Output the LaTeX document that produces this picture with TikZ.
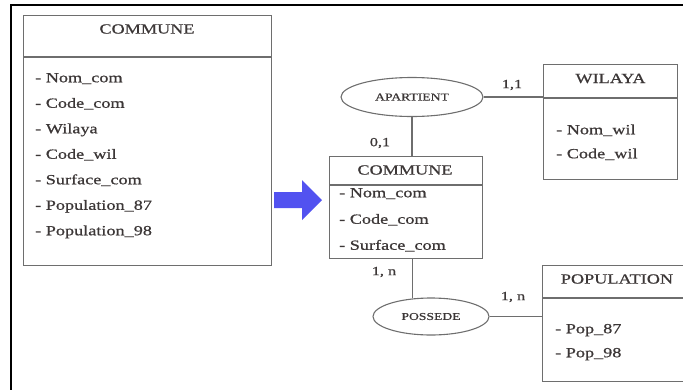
\documentclass[tikz,border=0pt]{standalone}
\usepackage{fontspec}
\setmainfont{Liberation Serif}[FakeStretch=1.3,FakeBold=0.8]
\usetikzlibrary{shapes.geometric}
\definecolor{txt}{RGB}{60,55,55}
\definecolor{edge}{RGB}{110,110,110}
\definecolor{arrowblue}{RGB}{82,82,240}
\begin{document}
\begin{tikzpicture}[x=1pt,y=-1pt,
  ent/.style={draw=edge, line width=1.1pt, inner sep=0pt, anchor=north west},
  head/.style={text=txt, font=\fontsize{14}{16}\selectfont, inner sep=0pt},
  attr/.style={text=txt, font=\fontsize{14}{16}\selectfont, inner sep=0pt, anchor=west, text height=9.5pt, text depth=3pt},
  rel/.style={ellipse, draw=edge, line width=1.1pt, inner sep=0pt, text=txt, font=\fontsize{10.5}{12}\selectfont},
  card/.style={text=txt, font=\fontsize{12.5}{14}\selectfont, inner sep=0pt},
  link/.style={draw=edge, line width=1.1pt}]
\useasboundingbox (0,0) rectangle (683,389);
\clip (0,0) rectangle (683,389);
% frame (only top and left edges visible)
\draw[line width=2.4pt] (700,5) -- (11,5) -- (11,400);

% left COMMUNE table
\node[ent, minimum width=248, minimum height=250] (c1) at (23,15) {};
\coordinate (c1h) at (0,57);
\draw[link] (c1.west |- c1h) -- (c1.east |- c1h);
\node[head] (c1t) at (147,29) {COMMUNE};
\node[attr] (c1a) at (35,79) {- Nom\_com};
\node[attr] (c1b) at (35,104.5) {- Code\_com};
\node[attr] (c1c) at (35,130) {- Wilaya};
\node[attr] (c1d) at (35,155.5) {- Code\_wil};
\node[attr] (c1e) at (35,181) {- Surface\_com};
\node[attr] (c1f) at (35,206.5) {- Population\_87};
\node[attr] (c1g) at (35,232) {- Population\_98};

% blue arrow
\fill[arrowblue] (274,192) -- (302,192) -- (302,180) -- (322,200) -- (302,220) -- (302,208) -- (274,208) -- cycle;

% centre COMMUNE entity
\node[ent, minimum width=153, minimum height=102] (c2) at (329,156) {};
\coordinate (c2h) at (0,185);
\draw[link] (c2.west |- c2h) -- (c2.east |- c2h);
\node[head] (c2t) at (405,170) {COMMUNE};
\node[attr] (c2a) at (339,194) {- Nom\_com};
\node[attr] (c2b) at (339,220.5) {- Code\_com};
\node[attr] (c2c) at (339,246.5) {- Surface\_com};

% WILAYA entity
\node[ent, minimum width=134, minimum height=115] (wil) at (543,64) {};
\coordinate (wilh) at (0,98);
\draw[link] (wil.west |- wilh) -- (wil.east |- wilh);
\node[head] (wilt) at (610.5,78.5) {WILAYA};
\node[attr] (wila) at (556,131) {- Nom\_wil};
\node[attr] (wilb) at (556,155) {- Code\_wil};

% POPULATION entity
\node[ent, minimum width=170, minimum height=116] (pop) at (542,265) {};
\coordinate (poph) at (0,298);
\draw[link] (pop.west |- poph) -- (pop.east |- poph);
\node[head] (popt) at (617,279) {POPULATION};
\node[attr] (popa) at (555,330) {- Pop\_87};
\node[attr] (popb) at (555,354) {- Pop\_98};

% relations
\node[rel, minimum width=142, minimum height=39] (apt) at (412,97) {APARTIENT};
\node[rel, minimum width=116, minimum height=37] (pos) at (431,316.5) {POSSEDE};

\draw[link] (apt.east) -- (apt.east -| wil.west);
\draw[link] (apt.south) -- (apt.south |- c2.north);
\draw[link] (pos.136 |- c2.south) -- (pos.136);
\draw[link] (pos.east) -- (pos.east -| pop.west);

% cardinalities
\node[card] (k01) at (380,143) {0,1};
\node[card] (k11) at (512,85) {1,1};
\node[card] (k1n) at (384,272) {1, n};
\node[card] (k1n2) at (513,297) {1, n};
\end{tikzpicture}
\end{document}
